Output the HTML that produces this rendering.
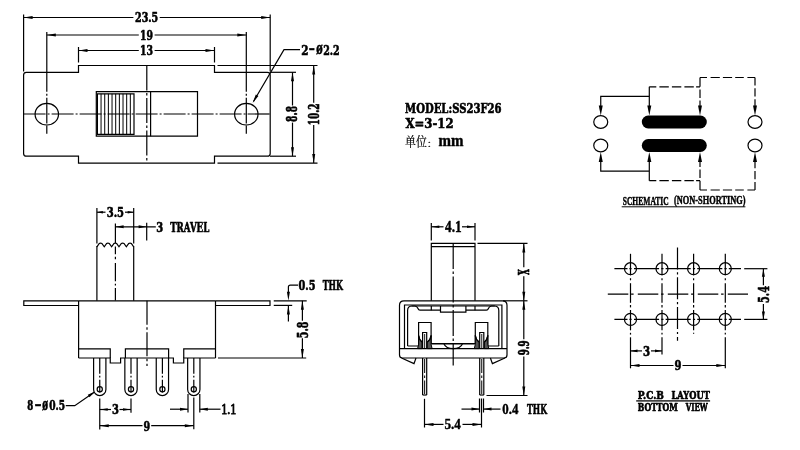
<!DOCTYPE html>
<html><head><meta charset="utf-8"><title>SS23F26</title>
<style>
html,body{margin:0;padding:0;background:#fff;}
body{width:800px;height:450px;overflow:hidden;}
svg{display:block;filter:grayscale(1);}
svg line,svg path,svg circle,svg ellipse{stroke:#000;}
svg text{fill:#000;}
</style></head><body>
<svg width="800" height="450" viewBox="0 0 800 450">
<rect x="0" y="0" width="800" height="450" fill="#fff"/>
<path d="M78.5,65.5 H214.5 V72.3 H267.4 Q270.2,72.3 270.2,75.1 V153.39999999999998 Q270.2,156.2 267.4,156.2 H214.5 V163.05 H78.5 V156.2 H26.400000000000002 Q23.6,156.2 23.6,153.39999999999998 V75.1 Q23.6,72.3 26.400000000000002,72.3 H78.5 Z" stroke-width="1.2" fill="none"/>
<line x1="23.6" y1="14.5" x2="23.6" y2="71.5" stroke-width="1.2"/>
<line x1="270.2" y1="14.5" x2="270.2" y2="71.5" stroke-width="1.2"/>
<line x1="23.6" y1="17.5" x2="133.4" y2="17.5" stroke-width="1.2"/>
<line x1="159.7" y1="17.5" x2="270.2" y2="17.5" stroke-width="1.2"/>
<polygon points="23.60,17.50 32.60,16.00 32.60,19.00" fill="#000" stroke="none"/>
<polygon points="270.20,17.50 261.20,19.00 261.20,16.00" fill="#000" stroke="none"/>
<text transform="translate(135.00 21.90) scale(0.9547 1.2400)" font-size="10" font-weight="bold" stroke="#000" stroke-width="0.55" vector-effect="non-scaling-stroke" stroke-linejoin="round" style="font-family:'DejaVu Serif','Liberation Serif',serif">23.5</text>
<line x1="46.8" y1="32" x2="46.8" y2="91.7" stroke-width="1.2"/>
<line x1="246.3" y1="32" x2="246.3" y2="91.7" stroke-width="1.2"/>
<line x1="46.8" y1="35" x2="138.8" y2="35" stroke-width="1.2"/>
<line x1="154.6" y1="35" x2="246.3" y2="35" stroke-width="1.2"/>
<polygon points="46.80,35.00 55.80,33.50 55.80,36.50" fill="#000" stroke="none"/>
<polygon points="246.30,35.00 237.30,36.50 237.30,33.50" fill="#000" stroke="none"/>
<text transform="translate(139.95 39.60) scale(0.9335 1.2667)" font-size="10" font-weight="bold" stroke="#000" stroke-width="0.55" vector-effect="non-scaling-stroke" stroke-linejoin="round" style="font-family:'DejaVu Serif','Liberation Serif',serif">19</text>
<line x1="78.5" y1="47" x2="78.5" y2="62.5" stroke-width="1.2"/>
<line x1="214.5" y1="47" x2="214.5" y2="62.5" stroke-width="1.2"/>
<line x1="78.5" y1="50.5" x2="138.8" y2="50.5" stroke-width="1.2"/>
<line x1="154.6" y1="50.5" x2="214.5" y2="50.5" stroke-width="1.2"/>
<polygon points="78.50,50.50 87.50,49.00 87.50,52.00" fill="#000" stroke="none"/>
<polygon points="214.50,50.50 205.50,52.00 205.50,49.00" fill="#000" stroke="none"/>
<text transform="translate(139.95 55.10) scale(0.9335 1.2133)" font-size="10" font-weight="bold" stroke="#000" stroke-width="0.55" vector-effect="non-scaling-stroke" stroke-linejoin="round" style="font-family:'DejaVu Serif','Liberation Serif',serif">13</text>
<ellipse cx="46.8" cy="114.2" rx="11.7" ry="10.8" stroke-width="1.2" fill="none"/>
<ellipse cx="246.3" cy="114.2" rx="11.7" ry="10.8" stroke-width="1.2" fill="none"/>
<line x1="46.8" y1="93.7" x2="46.8" y2="95.7" stroke-width="1.2"/>
<line x1="46.8" y1="97.7" x2="46.8" y2="123.5" stroke-width="1.2"/>
<line x1="46.8" y1="125.5" x2="46.8" y2="133.7" stroke-width="1.2"/>
<line x1="246.3" y1="93.7" x2="246.3" y2="95.7" stroke-width="1.2"/>
<line x1="246.3" y1="97.7" x2="246.3" y2="123.5" stroke-width="1.2"/>
<line x1="246.3" y1="125.5" x2="246.3" y2="133.7" stroke-width="1.2"/>
<line x1="23.6" y1="114" x2="270.2" y2="114" stroke-width="1.2" stroke-dasharray="22 2 2 2"/>
<line x1="146.8" y1="65.5" x2="146.8" y2="163.05" stroke-width="1.2" stroke-dasharray="25 2.5 2.5 2.5"/>
<path d="M96.3,91.6 H197.5 V136.2 H96.3 Z" stroke-width="1.2" fill="none"/>
<path d="M97.4,93.8 H134 V134.4 H97.4 Z" stroke-width="1.2" fill="none"/>
<line x1="101.06" y1="93.8" x2="101.06" y2="134.4" stroke-width="1"/>
<line x1="104.72" y1="93.8" x2="104.72" y2="134.4" stroke-width="1"/>
<line x1="108.38" y1="93.8" x2="108.38" y2="134.4" stroke-width="1"/>
<line x1="112.04" y1="93.8" x2="112.04" y2="134.4" stroke-width="1"/>
<line x1="115.7" y1="93.8" x2="115.7" y2="134.4" stroke-width="1"/>
<line x1="119.36" y1="93.8" x2="119.36" y2="134.4" stroke-width="1"/>
<line x1="123.02" y1="93.8" x2="123.02" y2="134.4" stroke-width="1"/>
<line x1="126.68" y1="93.8" x2="126.68" y2="134.4" stroke-width="1"/>
<line x1="130.34" y1="93.8" x2="130.34" y2="134.4" stroke-width="1"/>
<line x1="150.6" y1="91.6" x2="150.6" y2="136.2" stroke-width="1.2"/>
<line x1="217.5" y1="65.5" x2="317.5" y2="65.5" stroke-width="1.2"/>
<line x1="217.5" y1="163.05" x2="317.5" y2="163.05" stroke-width="1.2"/>
<line x1="270" y1="72.3" x2="296" y2="72.3" stroke-width="1.2"/>
<line x1="270" y1="156.2" x2="296" y2="156.2" stroke-width="1.2"/>
<line x1="292.5" y1="72.3" x2="292.5" y2="105.5" stroke-width="1.2"/>
<line x1="292.5" y1="122.6" x2="292.5" y2="156.2" stroke-width="1.2"/>
<polygon points="292.50,72.30 294.00,81.30 291.00,81.30" fill="#000" stroke="none"/>
<polygon points="292.50,156.20 291.00,147.20 294.00,147.20" fill="#000" stroke="none"/>
<line x1="313.7" y1="65.5" x2="313.7" y2="102.8" stroke-width="1.2"/>
<line x1="313.7" y1="125" x2="313.7" y2="163.05" stroke-width="1.2"/>
<polygon points="313.70,65.50 315.20,74.50 312.20,74.50" fill="#000" stroke="none"/>
<polygon points="313.70,163.05 312.20,154.05 315.20,154.05" fill="#000" stroke="none"/>
<text transform="translate(297.38 121.88) rotate(-90) scale(0.9155 1.4400)" font-size="10" font-weight="bold" stroke="#000" stroke-width="0.55" vector-effect="non-scaling-stroke" stroke-linejoin="round" style="font-family:'DejaVu Serif','Liberation Serif',serif">8.8</text>
<text transform="translate(318.88 125.20) rotate(-90) scale(0.8947 1.4133)" font-size="10" font-weight="bold" stroke="#000" stroke-width="0.55" vector-effect="non-scaling-stroke" stroke-linejoin="round" style="font-family:'DejaVu Serif','Liberation Serif',serif">10.2</text>
<path d="M253.5,101.5 L284,49.7 H300" stroke-width="1.2" fill="none"/>
<polygon points="252.60,103.00 255.85,94.47 258.44,95.99" fill="#000" stroke="none"/>
<text transform="translate(301.15 54.73) scale(1.0455 1.3108)" font-size="10" font-weight="bold" stroke="#000" stroke-width="0.55" vector-effect="non-scaling-stroke" stroke-linejoin="round" style="font-family:'DejaVu Serif','Liberation Serif',serif">2</text><text transform="translate(308.73 53.10) scale(1.4844 1.2857)" font-size="10" font-weight="bold" stroke="#000" stroke-width="0.55" vector-effect="non-scaling-stroke" stroke-linejoin="round" style="font-family:'DejaVu Serif','Liberation Serif',serif">-</text><text transform="translate(316.28 54.28) scale(0.9603 1.6935)" font-size="10" font-weight="bold" stroke="#000" stroke-width="0.55" vector-effect="non-scaling-stroke" stroke-linejoin="round" style="font-family:'DejaVu Serif','Liberation Serif',serif">ø</text><text transform="translate(323.20 54.60) scale(0.9505 1.2933)" font-size="10" font-weight="bold" stroke="#000" stroke-width="0.55" vector-effect="non-scaling-stroke" stroke-linejoin="round" style="font-family:'DejaVu Serif','Liberation Serif',serif">2.2</text>
<path d="M78.6,300.8 H23.8 V305.5 H78.6" stroke-width="1.2" fill="none"/>
<path d="M215.5,300.8 H270 V305.5 H215.5" stroke-width="1.2" fill="none"/>
<line x1="78.6" y1="300.8" x2="215.5" y2="300.8" stroke-width="1.2"/>
<line x1="78.6" y1="300.8" x2="78.6" y2="358" stroke-width="1.2"/>
<line x1="215.5" y1="300.8" x2="215.5" y2="358" stroke-width="1.2"/>
<path d="M78.6,358 H110.25 V363 H120.6 V358 H173.4 V363 H183.75 V358 H215.5" stroke-width="1.2" fill="none"/>
<path d="M78.6,348.8 H110.25 V358" stroke-width="1.2" fill="none"/>
<path d="M125.4,358 V348.8 H168.6 V358" stroke-width="1.2" fill="none"/>
<path d="M183.75,358 V348.8 H215.5" stroke-width="1.2" fill="none"/>
<line x1="147" y1="300.8" x2="147" y2="366" stroke-width="1.2" stroke-dasharray="24 2.5 2.5 2.5"/>
<line x1="96.9" y1="246" x2="96.9" y2="300.8" stroke-width="1.2"/>
<line x1="133.7" y1="246" x2="133.7" y2="300.8" stroke-width="1.2"/>
<path d="M96.9,246.8 L99.11,243.6 Q100.58,242.6 102.05,243.6 L104.26,246.8 L106.47,243.6 Q107.94,242.6 109.41,243.6 L111.62,246.8 L113.83,243.6 Q115.30,242.6 116.77,243.6 L118.98,246.8 L121.19,243.6 Q122.66,242.6 124.13,243.6 L126.34,246.8 L128.55,243.6 Q130.02,242.6 131.49,243.6 L133.70,246.8" stroke-width="1.2" fill="none"/>
<line x1="115.4" y1="223.5" x2="115.4" y2="243" stroke-width="1.2"/>
<line x1="115.4" y1="246.5" x2="115.4" y2="254.3" stroke-width="1.2"/>
<line x1="115.4" y1="256.8" x2="115.4" y2="259.3" stroke-width="1.2"/>
<line x1="115.4" y1="263" x2="115.4" y2="281.3" stroke-width="1.2"/>
<line x1="115.4" y1="283.8" x2="115.4" y2="285.5" stroke-width="1.2"/>
<line x1="115.4" y1="288" x2="115.4" y2="300.6" stroke-width="1.2"/>
<line x1="96.9" y1="208" x2="96.9" y2="243.5" stroke-width="1.2"/>
<line x1="133.7" y1="208" x2="133.7" y2="243.5" stroke-width="1.2"/>
<line x1="96.9" y1="212.2" x2="105.5" y2="212.2" stroke-width="1.2"/>
<line x1="125" y1="212.2" x2="133.7" y2="212.2" stroke-width="1.2"/>
<polygon points="96.90,212.20 102.90,210.90 102.90,213.50" fill="#000" stroke="none"/>
<polygon points="133.70,212.20 127.70,213.50 127.70,210.90" fill="#000" stroke="none"/>
<text transform="translate(106.67 216.50) scale(1.0007 1.2667)" font-size="10" font-weight="bold" stroke="#000" stroke-width="0.55" vector-effect="non-scaling-stroke" stroke-linejoin="round" style="font-family:'DejaVu Serif','Liberation Serif',serif">3.5</text>
<line x1="115.4" y1="226.8" x2="155.8" y2="226.8" stroke-width="1.2"/>
<polygon points="115.60,226.80 123.60,225.30 123.60,228.30" fill="#000" stroke="none"/>
<polygon points="146.60,226.80 138.60,228.30 138.60,225.30" fill="#000" stroke="none"/>
<line x1="146.7" y1="222.7" x2="146.7" y2="240.5" stroke-width="1.2"/>
<text transform="translate(156.18 231.59) scale(0.9914 1.3200)" font-size="10" font-weight="bold" stroke="#000" stroke-width="0.55" vector-effect="non-scaling-stroke" stroke-linejoin="round" style="font-family:'DejaVu Serif','Liberation Serif',serif">3</text>
<text transform="translate(170.19 231.72) scale(0.8662 1.3562)" font-size="10" font-weight="bold" stroke="#000" stroke-width="0.55" vector-effect="non-scaling-stroke" stroke-linejoin="round" style="font-family:'DejaVu Serif','Liberation Serif',serif">TRAVEL</text>
<path d="M93.6,358 V389.4 A6.15,6.15 0 0 0 105.9,389.4 V358" stroke-width="1.2" fill="none"/>
<line x1="99.75" y1="358" x2="99.75" y2="373.7" stroke-width="1.2"/>
<line x1="99.75" y1="375.8" x2="99.75" y2="377.6" stroke-width="1.2"/>
<line x1="99.75" y1="379.8" x2="99.75" y2="392.6" stroke-width="1.2"/>
<circle cx="99.75" cy="389.3" r="2.6" stroke-width="1.2" fill="none"/>
<path d="M124.85,358 V389.4 A6.15,6.15 0 0 0 137.15,389.4 V358" stroke-width="1.2" fill="none"/>
<line x1="131" y1="358" x2="131" y2="373.7" stroke-width="1.2"/>
<line x1="131" y1="375.8" x2="131" y2="377.6" stroke-width="1.2"/>
<line x1="131" y1="379.8" x2="131" y2="392.6" stroke-width="1.2"/>
<circle cx="131" cy="389.3" r="2.6" stroke-width="1.2" fill="none"/>
<path d="M156.25,358 V389.4 A6.15,6.15 0 0 0 168.55,389.4 V358" stroke-width="1.2" fill="none"/>
<line x1="162.4" y1="358" x2="162.4" y2="373.7" stroke-width="1.2"/>
<line x1="162.4" y1="375.8" x2="162.4" y2="377.6" stroke-width="1.2"/>
<line x1="162.4" y1="379.8" x2="162.4" y2="392.6" stroke-width="1.2"/>
<circle cx="162.4" cy="389.3" r="2.6" stroke-width="1.2" fill="none"/>
<path d="M187.65,358 V389.4 A6.15,6.15 0 0 0 199.95000000000002,389.4 V358" stroke-width="1.2" fill="none"/>
<line x1="193.8" y1="358" x2="193.8" y2="373.7" stroke-width="1.2"/>
<line x1="193.8" y1="375.8" x2="193.8" y2="377.6" stroke-width="1.2"/>
<line x1="193.8" y1="379.8" x2="193.8" y2="392.6" stroke-width="1.2"/>
<circle cx="193.8" cy="389.3" r="2.6" stroke-width="1.2" fill="none"/>
<line x1="273.75" y1="300.8" x2="306.7" y2="300.8" stroke-width="1.2"/>
<line x1="273.75" y1="305.4" x2="292.2" y2="305.4" stroke-width="1.2"/>
<path d="M288.4,292 V287 Q288.4,285.1 290.4,285.1 H298" stroke-width="1.2" fill="none"/>
<polygon points="288.40,300.80 286.90,291.80 289.90,291.80" fill="#000" stroke="none"/>
<polygon points="288.40,305.40 289.90,314.40 286.90,314.40" fill="#000" stroke="none"/>
<line x1="288.4" y1="305.4" x2="288.4" y2="321.4" stroke-width="1.2"/>
<text transform="translate(298.58 289.89) scale(0.9762 1.3067)" font-size="10" font-weight="bold" stroke="#000" stroke-width="0.55" vector-effect="non-scaling-stroke" stroke-linejoin="round" style="font-family:'DejaVu Serif','Liberation Serif',serif">0.5</text>
<text transform="translate(322.70 290.03) scale(0.7930 1.3425)" font-size="10" font-weight="bold" stroke="#000" stroke-width="0.55" vector-effect="non-scaling-stroke" stroke-linejoin="round" style="font-family:'DejaVu Serif','Liberation Serif',serif">THK</text>
<line x1="218" y1="358" x2="306.2" y2="358" stroke-width="1.2"/>
<line x1="302.4" y1="300.8" x2="302.4" y2="320.7" stroke-width="1.2"/>
<line x1="302.4" y1="338.3" x2="302.4" y2="358" stroke-width="1.2"/>
<polygon points="302.40,300.80 303.90,309.80 300.90,309.80" fill="#000" stroke="none"/>
<polygon points="302.40,358.00 300.90,349.00 303.90,349.00" fill="#000" stroke="none"/>
<text transform="translate(307.78 338.19) rotate(-90) scale(0.9573 1.4933)" font-size="10" font-weight="bold" stroke="#000" stroke-width="0.55" vector-effect="non-scaling-stroke" stroke-linejoin="round" style="font-family:'DejaVu Serif','Liberation Serif',serif">5.8</text>
<text transform="translate(27.35 410.29) scale(0.8583 1.3133)" font-size="10" font-weight="bold" stroke="#000" stroke-width="0.55" vector-effect="non-scaling-stroke" stroke-linejoin="round" style="font-family:'DejaVu Serif','Liberation Serif',serif">8</text><text transform="translate(34.42 409.10) scale(1.7031 1.2857)" font-size="10" font-weight="bold" stroke="#000" stroke-width="0.55" vector-effect="non-scaling-stroke" stroke-linejoin="round" style="font-family:'DejaVu Serif','Liberation Serif',serif">-</text><text transform="translate(42.30 409.97) scale(0.8651 1.7097)" font-size="10" font-weight="bold" stroke="#000" stroke-width="0.55" vector-effect="non-scaling-stroke" stroke-linejoin="round" style="font-family:'DejaVu Serif','Liberation Serif',serif">ø</text><text transform="translate(49.16 410.29) scale(0.9119 1.3133)" font-size="10" font-weight="bold" stroke="#000" stroke-width="0.55" vector-effect="non-scaling-stroke" stroke-linejoin="round" style="font-family:'DejaVu Serif','Liberation Serif',serif">0.5</text>
<path d="M65.75,405.7 H74.75 L94.2,392.2" stroke-width="1.2" fill="none"/>
<polygon points="95.20,391.50 89.48,397.29 87.77,394.83" fill="#000" stroke="none"/>
<line x1="99.75" y1="398.5" x2="99.75" y2="429.5" stroke-width="1.2"/>
<line x1="131" y1="398.5" x2="131" y2="412.8" stroke-width="1.2"/>
<line x1="99.75" y1="409.5" x2="111" y2="409.5" stroke-width="1.2"/>
<line x1="119.5" y1="409.5" x2="131" y2="409.5" stroke-width="1.2"/>
<polygon points="99.75,409.50 107.75,408.20 107.75,410.80" fill="#000" stroke="none"/>
<polygon points="131.00,409.50 123.00,410.80 123.00,408.20" fill="#000" stroke="none"/>
<text transform="translate(111.88 414.29) scale(0.9914 1.3467)" font-size="10" font-weight="bold" stroke="#000" stroke-width="0.55" vector-effect="non-scaling-stroke" stroke-linejoin="round" style="font-family:'DejaVu Serif','Liberation Serif',serif">3</text>
<line x1="193.8" y1="397.5" x2="193.8" y2="429.3" stroke-width="1.2"/>
<line x1="99.75" y1="425.7" x2="142.5" y2="425.7" stroke-width="1.2"/>
<line x1="151.2" y1="425.7" x2="193.8" y2="425.7" stroke-width="1.2"/>
<polygon points="99.75,425.70 108.75,424.20 108.75,427.20" fill="#000" stroke="none"/>
<polygon points="193.80,425.70 184.80,427.20 184.80,424.20" fill="#000" stroke="none"/>
<text transform="translate(143.60 430.60) scale(0.9576 1.2933)" font-size="10" font-weight="bold" stroke="#000" stroke-width="0.55" vector-effect="non-scaling-stroke" stroke-linejoin="round" style="font-family:'DejaVu Serif','Liberation Serif',serif">9</text>
<line x1="188" y1="394" x2="188" y2="412.6" stroke-width="1.2"/>
<line x1="199.8" y1="394" x2="199.8" y2="412.6" stroke-width="1.2"/>
<line x1="170" y1="409.2" x2="188" y2="409.2" stroke-width="1.2"/>
<line x1="199.8" y1="409.2" x2="220.5" y2="409.2" stroke-width="1.2"/>
<polygon points="188.00,409.20 180.00,410.70 180.00,407.70" fill="#000" stroke="none"/>
<polygon points="199.80,409.20 207.80,407.70 207.80,410.70" fill="#000" stroke="none"/>
<text transform="translate(221.23 414.45) scale(1.2072 1.5149)" font-size="10" font-weight="normal" stroke="#000" stroke-width="0.8" vector-effect="non-scaling-stroke" stroke-linejoin="round" style="font-family:'Liberation Serif',serif">1.1</text>
<text transform="translate(405.07 112.70) scale(1.0069 1.2933)" font-size="10" font-weight="bold" stroke="#000" stroke-width="0.55" vector-effect="non-scaling-stroke" stroke-linejoin="round" style="font-family:'DejaVu Serif','Liberation Serif',serif">MODEL:SS23F26</text>
<text transform="translate(405.47 128.49) scale(1.1723 1.3467)" font-size="10" font-weight="bold" stroke="#000" stroke-width="0.55" vector-effect="non-scaling-stroke" stroke-linejoin="round" style="font-family:'DejaVu Serif','Liberation Serif',serif">X=3-12</text>
<text transform="translate(405.02 145.75) scale(1.0954 1.2766)" font-size="10" font-weight="normal" stroke="#000" stroke-width="0.2" vector-effect="non-scaling-stroke" stroke-linejoin="round" style="font-family:'Liberation Serif','Noto Serif CJK SC',serif">单位</text><text transform="translate(426.41 146.76) scale(1.2308 0.8679)" font-size="10" font-weight="normal" stroke="#000" stroke-width="0.2" vector-effect="non-scaling-stroke" stroke-linejoin="round" style="font-family:'Liberation Serif','Noto Serif CJK SC',serif">：</text>
<text transform="translate(438.40 146.20) scale(1.5003 1.6383)" font-size="10" font-weight="bold" stroke="#000" stroke-width="0.4" vector-effect="non-scaling-stroke" stroke-linejoin="round" style="font-family:'Liberation Serif',serif">mm</text>
<path d="M431.3,300.8 V243.4 H475 V300.8" stroke-width="1.2" fill="none"/>
<line x1="431.3" y1="246.7" x2="475" y2="246.7" stroke-width="1.2"/>
<line x1="453.2" y1="243" x2="453.2" y2="365.5" stroke-width="1.2" stroke-dasharray="26 2.5 2.5 2.5"/>
<path d="M402.5,358 Q399.5,358 399.5,355 V305.3 Q399.5,300.8 404.0,300.8 H502.5 Q507.0,300.8 507.0,305.3 V355 Q507.0,358 504.0,358" stroke-width="1.2" fill="none"/>
<line x1="399.5" y1="348.7" x2="507.0" y2="348.7" stroke-width="1.2"/>
<line x1="402.5" y1="358" x2="504.0" y2="358" stroke-width="1.2"/>
<path d="M404.5,348.7 V305 H501.9 V348.7" stroke-width="1.2" fill="none"/>
<path d="M407.6,346 V310.5 Q407.6,306 412.1,306 H415 Q417.3,306.3 418,308.5 Q418.5,310.2 420,310.2 H440.5" stroke-width="1.2" fill="none"/>
<path d="M498.8,346 V310.5 Q498.8,306 494.3,306 H491.4 Q489.09999999999997,306.3 488.4,308.5 Q487.9,310.2 486.4,310.2 H465.9" stroke-width="1.2" fill="none"/>
<line x1="411.6" y1="306" x2="494.8" y2="306" stroke-width="1.2"/>
<path d="M440.5,306 V312.2 H465.9 V306" stroke-width="1.2" fill="none"/>
<line x1="431.3" y1="306" x2="431.3" y2="310.2" stroke-width="1.2"/>
<line x1="475" y1="306" x2="475" y2="310.2" stroke-width="1.2"/>
<path d="M407.6,346 H418.6 V322.5 H431.1 V343.8" stroke-width="1.2" fill="none"/>
<path d="M422.6,348.7 V332.5 H426.7 V348.7" stroke-width="1.2" fill="none"/>
<line x1="422.6" y1="358" x2="422.6" y2="395" stroke-width="1.2"/>
<line x1="426.7" y1="358" x2="426.7" y2="395" stroke-width="1.2"/>
<line x1="422.6" y1="395" x2="426.7" y2="395" stroke-width="1.2"/>
<line x1="424.65" y1="334" x2="424.65" y2="348" stroke-width="0.9"/>
<line x1="424.65" y1="359" x2="424.65" y2="373" stroke-width="1"/>
<line x1="424.65" y1="375.5" x2="424.65" y2="378" stroke-width="1"/>
<line x1="424.65" y1="380.5" x2="424.65" y2="394" stroke-width="1"/>
<path d="M418.6,335.5 Q419.20000000000005,340 422.0,342 L422.0,348.6 L417.6,348.6 L418.6,344.5 Z" fill="#555" stroke="none"/>
<path d="M418.6,335.5 Q419.20000000000005,340 422.0,342" stroke-width="1.3" fill="none"/>
<path d="M431.1,335.5 Q430.5,340 427.3,342 L427.3,348.6 L432.1,348.6 L431.1,344.5 Z" fill="#555" stroke="none"/>
<path d="M431.1,335.5 Q430.5,340 427.3,342" stroke-width="1.3" fill="none"/>
<path d="M401.5,358 L414,363.6 L416,358" stroke-width="1.2" fill="none"/>
<path d="M498.79999999999995,346 H487.79999999999995 V322.5 H475.29999999999995 V343.8" stroke-width="1.2" fill="none"/>
<path d="M483.79999999999995,348.7 V332.5 H479.7 V348.7" stroke-width="1.2" fill="none"/>
<line x1="483.79999999999995" y1="358" x2="483.79999999999995" y2="395" stroke-width="1.2"/>
<line x1="479.7" y1="358" x2="479.7" y2="395" stroke-width="1.2"/>
<line x1="483.79999999999995" y1="395" x2="479.7" y2="395" stroke-width="1.2"/>
<line x1="481.75" y1="334" x2="481.75" y2="348" stroke-width="0.9"/>
<line x1="481.75" y1="359" x2="481.75" y2="373" stroke-width="1"/>
<line x1="481.75" y1="375.5" x2="481.75" y2="378" stroke-width="1"/>
<line x1="481.75" y1="380.5" x2="481.75" y2="394" stroke-width="1"/>
<path d="M487.79999999999995,335.5 Q487.19999999999993,340 484.4,342 L484.4,348.6 L488.79999999999995,348.6 L487.79999999999995,344.5 Z" fill="#555" stroke="none"/>
<path d="M487.79999999999995,335.5 Q487.19999999999993,340 484.4,342" stroke-width="1.3" fill="none"/>
<path d="M475.29999999999995,335.5 Q475.9,340 479.09999999999997,342 L479.09999999999997,348.6 L474.29999999999995,348.6 L475.29999999999995,344.5 Z" fill="#555" stroke="none"/>
<path d="M475.29999999999995,335.5 Q475.9,340 479.09999999999997,342" stroke-width="1.3" fill="none"/>
<path d="M504.9,358 L492.4,363.6 L490.4,358" stroke-width="1.2" fill="none"/>
<line x1="431.1" y1="343.8" x2="475.29999999999995" y2="343.8" stroke-width="1.6"/>
<path d="M444,344 Q446,348.6 453.2,348.6 Q460.4,348.6 462.4,344" stroke-width="1.2" fill="none"/>
<line x1="431.3" y1="223" x2="431.3" y2="240.5" stroke-width="1.2"/>
<line x1="475" y1="223" x2="475" y2="240.5" stroke-width="1.2"/>
<line x1="431.3" y1="226.8" x2="443.5" y2="226.8" stroke-width="1.2"/>
<line x1="462" y1="226.8" x2="475" y2="226.8" stroke-width="1.2"/>
<polygon points="431.30,226.80 439.30,225.50 439.30,228.10" fill="#000" stroke="none"/>
<polygon points="475.00,226.80 467.00,228.10 467.00,225.50" fill="#000" stroke="none"/>
<text transform="translate(445.07 232.04) scale(1.3277 1.5896)" font-size="10" font-weight="bold" stroke="#000" stroke-width="0.4" vector-effect="non-scaling-stroke" stroke-linejoin="round" style="font-family:'Liberation Serif',serif">4.1</text>
<line x1="477.5" y1="243.4" x2="527.5" y2="243.4" stroke-width="1.2"/>
<line x1="503" y1="300.8" x2="527.5" y2="300.8" stroke-width="1.2"/>
<line x1="486.5" y1="395.5" x2="527.5" y2="395.5" stroke-width="1.2"/>
<line x1="523.8" y1="243.4" x2="523.8" y2="267.3" stroke-width="1.2"/>
<line x1="523.8" y1="276.2" x2="523.8" y2="300.8" stroke-width="1.2"/>
<polygon points="523.80,243.40 525.30,252.40 522.30,252.40" fill="#000" stroke="none"/>
<polygon points="523.80,300.80 522.30,291.80 525.30,291.80" fill="#000" stroke="none"/>
<text transform="translate(529.13 275.12) rotate(-90) scale(0.7500 1.5205)" font-size="10" font-weight="bold" stroke="#000" stroke-width="0.55" vector-effect="non-scaling-stroke" stroke-linejoin="round" style="font-family:'DejaVu Serif','Liberation Serif',serif">X</text>
<line x1="523.8" y1="300.8" x2="523.8" y2="339.2" stroke-width="1.2"/>
<line x1="523.8" y1="356.6" x2="523.8" y2="395.5" stroke-width="1.2"/>
<polygon points="523.80,300.80 525.30,309.80 522.30,309.80" fill="#000" stroke="none"/>
<polygon points="523.80,395.50 522.30,386.50 525.30,386.50" fill="#000" stroke="none"/>
<text transform="translate(528.98 355.35) rotate(-90) scale(0.8599 1.4800)" font-size="10" font-weight="bold" stroke="#000" stroke-width="0.55" vector-effect="non-scaling-stroke" stroke-linejoin="round" style="font-family:'DejaVu Serif','Liberation Serif',serif">9.9</text>
<line x1="479.5" y1="398.5" x2="479.5" y2="412.5" stroke-width="1.2"/>
<line x1="483.5" y1="398.5" x2="483.5" y2="412.5" stroke-width="1.2"/>
<line x1="481.5" y1="398.5" x2="481.5" y2="427.5" stroke-width="1.2"/>
<line x1="461.5" y1="409.1" x2="479.5" y2="409.1" stroke-width="1.2"/>
<line x1="483.5" y1="409.1" x2="500.5" y2="409.1" stroke-width="1.2"/>
<polygon points="479.50,409.10 471.50,410.60 471.50,407.60" fill="#000" stroke="none"/>
<polygon points="483.50,409.10 491.50,407.60 491.50,410.60" fill="#000" stroke="none"/>
<text transform="translate(502.31 413.91) scale(1.2893 1.4632)" font-size="10" font-weight="bold" stroke="#000" stroke-width="0.4" vector-effect="non-scaling-stroke" stroke-linejoin="round" style="font-family:'Liberation Serif',serif">0.4</text>
<text transform="translate(527.00 414.12) scale(0.7813 1.3425)" font-size="10" font-weight="bold" stroke="#000" stroke-width="0.55" vector-effect="non-scaling-stroke" stroke-linejoin="round" style="font-family:'DejaVu Serif','Liberation Serif',serif">THK</text>
<line x1="424.5" y1="398.8" x2="424.5" y2="427.5" stroke-width="1.2"/>
<line x1="424.5" y1="424.4" x2="443.5" y2="424.4" stroke-width="1.2"/>
<line x1="462.5" y1="424.4" x2="481.5" y2="424.4" stroke-width="1.2"/>
<polygon points="424.50,424.40 433.50,422.90 433.50,425.90" fill="#000" stroke="none"/>
<polygon points="481.50,424.40 472.50,425.90 472.50,422.90" fill="#000" stroke="none"/>
<text transform="translate(444.47 429.34) scale(1.3167 1.5530)" font-size="10" font-weight="bold" stroke="#000" stroke-width="0.4" vector-effect="non-scaling-stroke" stroke-linejoin="round" style="font-family:'Liberation Serif',serif">5.4</text>
<ellipse cx="600.75" cy="122" rx="7" ry="6.3" stroke-width="1.2" fill="none"/>
<ellipse cx="755" cy="122" rx="7" ry="6.3" stroke-width="1.2" fill="none"/>
<rect x="641.8" y="115.6" width="65" height="12.8" rx="6.4" fill="#000" stroke="none"/>
<ellipse cx="600.75" cy="145.5" rx="7" ry="6.3" stroke-width="1.2" fill="none"/>
<ellipse cx="755" cy="145.5" rx="7" ry="6.3" stroke-width="1.2" fill="none"/>
<rect x="641.8" y="139.1" width="65" height="12.8" rx="6.4" fill="#000" stroke="none"/>
<path d="M600.75,106 V96.3 H649.3 V106" stroke-width="1.2" fill="none"/>
<polygon points="600.75,115.40 598.75,105.40 602.75,105.40" fill="#000" stroke="none"/>
<polygon points="649.30,115.40 647.30,105.40 651.30,105.40" fill="#000" stroke="none"/>
<polygon points="700.00,115.40 698.00,105.40 702.00,105.40" fill="#000" stroke="none"/>
<polygon points="755.00,115.40 753.00,105.40 757.00,105.40" fill="#000" stroke="none"/>
<line x1="649.3" y1="96.3" x2="649.3" y2="86.8" stroke-width="1.2"/>
<line x1="649.3" y1="86.8" x2="700" y2="86.8" stroke-width="1.2" stroke-dasharray="7 3.1 9.4 3.1 9.4 3.1 9.4 2.3 4"/>
<line x1="700" y1="77.5" x2="700" y2="106" stroke-width="1.2" stroke-dasharray="9.3 2.6 8.6 2.6 8"/>
<line x1="700" y1="77.5" x2="755" y2="77.5" stroke-width="1.2" stroke-dasharray="7 3.6 9.2 3.1 9.2 3.1 8.6 3.6 7.6"/>
<line x1="755" y1="77.5" x2="755" y2="106" stroke-width="1.2" stroke-dasharray="8 2.8 8.2 2.8 8"/>
<path d="M600.75,161.5 V171.2 H649.3 V161.5" stroke-width="1.2" fill="none"/>
<polygon points="600.75,152.10 602.75,162.10 598.75,162.10" fill="#000" stroke="none"/>
<polygon points="649.30,152.10 651.30,162.10 647.30,162.10" fill="#000" stroke="none"/>
<polygon points="700.00,152.10 702.00,162.10 698.00,162.10" fill="#000" stroke="none"/>
<polygon points="755.00,152.10 757.00,162.10 753.00,162.10" fill="#000" stroke="none"/>
<line x1="649.3" y1="171.2" x2="649.3" y2="180.7" stroke-width="1.2"/>
<line x1="649.3" y1="180.7" x2="700" y2="180.7" stroke-width="1.2" stroke-dasharray="7 3.1 9.4 3.1 9.4 3.1 9.4 2.3 4"/>
<line x1="700" y1="190.0" x2="700" y2="161.5" stroke-width="1.2" stroke-dasharray="9.3 2.6 8.6 2.6 8"/>
<line x1="700" y1="190.0" x2="755" y2="190.0" stroke-width="1.2" stroke-dasharray="7 3.6 9.2 3.1 9.2 3.1 8.6 3.6 7.6"/>
<line x1="755" y1="190.0" x2="755" y2="161.5" stroke-width="1.2" stroke-dasharray="8 2.8 8.2 2.8 8"/>
<text transform="translate(622.72 205.15) scale(0.7553 1.2721)" font-size="10" font-weight="bold" stroke="#000" stroke-width="0.4" vector-effect="non-scaling-stroke" stroke-linejoin="round" style="font-family:'Liberation Serif',serif">SCHEMATIC</text>
<text transform="translate(674.07 204.45) scale(0.8336 1.1576)" font-size="10" font-weight="bold" stroke="#000" stroke-width="0.4" vector-effect="non-scaling-stroke" stroke-linejoin="round" style="font-family:'Liberation Serif',serif">(NON-SHORTING)</text>
<line x1="621.7" y1="206.8" x2="745.4" y2="206.8" stroke-width="1"/>
<circle cx="630.5" cy="268.7" r="6" stroke-width="1.2" fill="none"/>
<circle cx="662" cy="268.7" r="6" stroke-width="1.2" fill="none"/>
<circle cx="693.6" cy="268.7" r="6" stroke-width="1.2" fill="none"/>
<circle cx="725.3" cy="268.7" r="6" stroke-width="1.2" fill="none"/>
<line x1="614.4" y1="268.7" x2="741" y2="268.7" stroke-width="1.2" stroke-dasharray="13.1 1.9 2.2 2.4 25.1 2.2 2.2 2.1 25.1 2.2 2.2 2.1 25.1 2.2 2.2 2.1 12.2"/>
<line x1="744.2" y1="268.7" x2="767.4" y2="268.7" stroke-width="1.2"/>
<circle cx="630.5" cy="319.4" r="6" stroke-width="1.2" fill="none"/>
<circle cx="662" cy="319.4" r="6" stroke-width="1.2" fill="none"/>
<circle cx="693.6" cy="319.4" r="6" stroke-width="1.2" fill="none"/>
<circle cx="725.3" cy="319.4" r="6" stroke-width="1.2" fill="none"/>
<line x1="614.4" y1="319.4" x2="741" y2="319.4" stroke-width="1.2" stroke-dasharray="13.1 1.9 2.2 2.4 25.1 2.2 2.2 2.1 25.1 2.2 2.2 2.1 25.1 2.2 2.2 2.1 12.2"/>
<line x1="744.2" y1="319.4" x2="767.4" y2="319.4" stroke-width="1.2"/>
<line x1="630.5" y1="253.8" x2="630.5" y2="275.3" stroke-width="1.2"/>
<line x1="630.5" y1="278.2" x2="630.5" y2="280.3" stroke-width="1.2"/>
<line x1="630.5" y1="283.2" x2="630.5" y2="302.8" stroke-width="1.2"/>
<line x1="630.5" y1="305" x2="630.5" y2="307.4" stroke-width="1.2"/>
<line x1="630.5" y1="310" x2="630.5" y2="330.3" stroke-width="1.2"/>
<line x1="630.5" y1="332.8" x2="630.5" y2="334.6" stroke-width="1.2"/>
<line x1="630.5" y1="337.3" x2="630.5" y2="368.3" stroke-width="1.2"/>
<line x1="662" y1="253.8" x2="662" y2="275.3" stroke-width="1.2"/>
<line x1="662" y1="278.2" x2="662" y2="280.3" stroke-width="1.2"/>
<line x1="662" y1="283.2" x2="662" y2="302.8" stroke-width="1.2"/>
<line x1="662" y1="305" x2="662" y2="307.4" stroke-width="1.2"/>
<line x1="662" y1="310" x2="662" y2="330.3" stroke-width="1.2"/>
<line x1="662" y1="332.8" x2="662" y2="334.6" stroke-width="1.2"/>
<line x1="662" y1="337.3" x2="662" y2="354.5" stroke-width="1.2"/>
<line x1="693.6" y1="253.8" x2="693.6" y2="275.3" stroke-width="1.2"/>
<line x1="693.6" y1="278.2" x2="693.6" y2="280.3" stroke-width="1.2"/>
<line x1="693.6" y1="283.2" x2="693.6" y2="302.8" stroke-width="1.2"/>
<line x1="693.6" y1="305" x2="693.6" y2="307.4" stroke-width="1.2"/>
<line x1="693.6" y1="310" x2="693.6" y2="330.3" stroke-width="1.2"/>
<line x1="693.6" y1="332.8" x2="693.6" y2="333.8" stroke-width="1.2"/>
<line x1="725.3" y1="253.8" x2="725.3" y2="275.3" stroke-width="1.2"/>
<line x1="725.3" y1="278.2" x2="725.3" y2="280.3" stroke-width="1.2"/>
<line x1="725.3" y1="283.2" x2="725.3" y2="302.8" stroke-width="1.2"/>
<line x1="725.3" y1="305" x2="725.3" y2="307.4" stroke-width="1.2"/>
<line x1="725.3" y1="310" x2="725.3" y2="330.3" stroke-width="1.2"/>
<line x1="725.3" y1="332.8" x2="725.3" y2="334.6" stroke-width="1.2"/>
<line x1="725.3" y1="337.3" x2="725.3" y2="368.3" stroke-width="1.2"/>
<line x1="677.5" y1="247.5" x2="677.5" y2="340.7" stroke-width="1.2" stroke-dasharray="22 2.8 2.2 2.8"/>
<line x1="607.8" y1="294.2" x2="748" y2="294.2" stroke-width="1.2" stroke-dasharray="20.5 2.8 2.5 4.2"/>
<line x1="763.4" y1="268.7" x2="763.4" y2="285.2" stroke-width="1.2"/>
<line x1="763.4" y1="303.9" x2="763.4" y2="319.4" stroke-width="1.2"/>
<polygon points="763.40,268.70 764.90,276.70 761.90,276.70" fill="#000" stroke="none"/>
<polygon points="763.40,319.40 761.90,311.40 764.90,311.40" fill="#000" stroke="none"/>
<text transform="translate(768.58 303.11) rotate(-90) scale(0.9822 1.4400)" font-size="10" font-weight="bold" stroke="#000" stroke-width="0.55" vector-effect="non-scaling-stroke" stroke-linejoin="round" style="font-family:'DejaVu Serif','Liberation Serif',serif">5.4</text>
<line x1="630.5" y1="350.9" x2="642" y2="350.9" stroke-width="1.2"/>
<line x1="651" y1="350.9" x2="662" y2="350.9" stroke-width="1.2"/>
<polygon points="630.50,350.90 637.50,349.60 637.50,352.20" fill="#000" stroke="none"/>
<polygon points="662.00,350.90 655.00,352.20 655.00,349.60" fill="#000" stroke="none"/>
<text transform="translate(642.91 355.79) scale(1.0172 1.3133)" font-size="10" font-weight="bold" stroke="#000" stroke-width="0.55" vector-effect="non-scaling-stroke" stroke-linejoin="round" style="font-family:'DejaVu Serif','Liberation Serif',serif">3</text>
<line x1="630.5" y1="365.5" x2="673.5" y2="365.5" stroke-width="1.2"/>
<line x1="682.5" y1="365.5" x2="725.3" y2="365.5" stroke-width="1.2"/>
<polygon points="630.50,365.50 639.50,364.00 639.50,367.00" fill="#000" stroke="none"/>
<polygon points="725.30,365.50 716.30,367.00 716.30,364.00" fill="#000" stroke="none"/>
<text transform="translate(674.52 370.04) scale(1.0000 1.3133)" font-size="10" font-weight="bold" stroke="#000" stroke-width="0.55" vector-effect="non-scaling-stroke" stroke-linejoin="round" style="font-family:'DejaVu Serif','Liberation Serif',serif">9</text>
<text transform="translate(637.81 399.42) scale(0.9000 1.0933)" font-size="10" font-weight="bold" stroke="#000" stroke-width="0.55" vector-effect="non-scaling-stroke" stroke-linejoin="round" style="font-family:'DejaVu Serif','Liberation Serif',serif">P.C.B</text>
<text transform="translate(671.54 399.42) scale(0.8275 1.0933)" font-size="10" font-weight="bold" stroke="#000" stroke-width="0.55" vector-effect="non-scaling-stroke" stroke-linejoin="round" style="font-family:'DejaVu Serif','Liberation Serif',serif">LAYOUT</text>
<line x1="636.2" y1="400.9" x2="710.1" y2="400.9" stroke-width="1.7" style="stroke:#444"/>
<text transform="translate(637.87 410.92) scale(0.7748 1.0933)" font-size="10" font-weight="bold" stroke="#000" stroke-width="0.55" vector-effect="non-scaling-stroke" stroke-linejoin="round" style="font-family:'DejaVu Serif','Liberation Serif',serif">BOTTOM</text>
<text transform="translate(685.65 411.03) scale(0.7082 1.1233)" font-size="10" font-weight="bold" stroke="#000" stroke-width="0.55" vector-effect="non-scaling-stroke" stroke-linejoin="round" style="font-family:'DejaVu Serif','Liberation Serif',serif">VIEW</text>
</svg>
</body></html>
